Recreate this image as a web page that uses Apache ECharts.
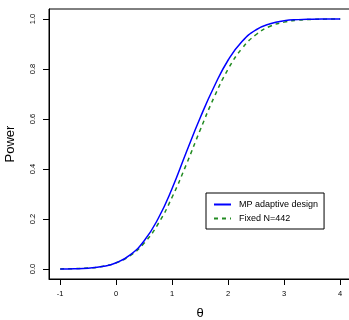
<!DOCTYPE html>
<html>
<head>
<meta charset="utf-8">
<script src="https://cdn.jsdelivr.net/npm/echarts@6/dist/echarts.min.js"></script>
<style>html,body{margin:0;padding:0;background:#fff}#c{width:349px;height:320px}</style>
</head>
<body>
<div id="c"></div>
<script>
var theta = [-1,-0.75,-0.5,-0.25,0,0.25,0.5,0.75,1,1.25,1.5,1.75,2,2.25,2.5,2.75,3,3.25,3.5,3.75,4];
var mpPower = [0.0003,0.001,0.0034,0.0098,0.025,0.0565,0.113,0.202,0.323,0.466,0.605,0.730,0.836,0.911,0.957,0.981,0.993,0.9975,0.9992,0.9998,1.0];
var fixedPower = [0.0004,0.0013,0.0039,0.0104,0.025,0.0537,0.1038,0.181,0.288,0.417,0.556,0.688,0.800,0.883,0.938,0.971,0.9875,0.9952,0.9984,0.9995,0.9999];
var xTicks = [-1,0,1,2,3,4];
var yTicks = [0,0.2,0.4,0.6,0.8,1.0];
var seriesNames = ['MP adaptive design','Fixed N=442'];
var xMin = -1.2, xMax = 4.2, yMin = -0.04, yMax = 1.04;

function pairs(xs, ys){ return xs.map(function(x,i){ return [x, ys[i]]; }); }
var FF = 'Liberation Sans, Arial, sans-serif';
var chart = echarts.init(document.getElementById('c'), null, {renderer:'canvas'});
chart.setOption({
  animation:false,
  backgroundColor:'#fff',
  grid:{left:49, top:9, width:302.4, height:270, show:true, borderColor:'#000', borderWidth:1,
    backgroundColor:'transparent', containLabel:false, outerBoundsMode:'none'},
  xAxis:{type:'value', min:xMin, max:xMax,
    name:'θ', nameLocation:'middle', nameGap:28, nameTextStyle:{fontSize:13, color:'#000', fontFamily:FF},
    axisLine:{show:true, onZero:false, lineStyle:{color:'#000', width:1}}, splitLine:{show:false},
    axisTick:{show:false},
    axisLabel:{customValues:xTicks, margin:11, fontSize:7.5, color:'#000', fontFamily:FF}},
  yAxis:{type:'value', min:yMin, max:yMax,
    name:'Power', nameLocation:'middle', nameRotate:90, nameGap:32, nameTextStyle:{fontSize:13, color:'#000', fontFamily:FF},
    axisLine:{show:true, onZero:false, lineStyle:{color:'#000', width:1}}, splitLine:{show:false},
    axisTick:{show:false},
    axisLabel:{customValues:yTicks, rotate:90, margin:12, fontSize:7.5, color:'#000', fontFamily:FF,
      formatter:function(v){return v.toFixed(1);}}},
  legend:{show:true, left:206, top:193, orient:'vertical', data:seriesNames,
    backgroundColor:'#fff', borderColor:'#000', borderWidth:1, borderRadius:0,
    padding:[7,6,6,7], itemGap:5, itemWidth:17, itemHeight:10,
    itemStyle:{color:'rgba(0,0,0,0)', borderColor:'rgba(0,0,0,0)', borderWidth:0},
    textStyle:{fontSize:9, color:'#000', fontFamily:FF, padding:[0,0,0,3]}},
  series:[
    {name:seriesNames[1], type:'line', data:pairs(theta, fixedPower), showSymbol:false, symbol:'none',
     smooth:true, z:2,
     lineStyle:{color:'#228B22', width:1.5, type:[4,4]}, itemStyle:{color:'#228B22'}},
    {name:seriesNames[0], type:'line', data:pairs(theta, mpPower), showSymbol:false, symbol:'none',
     smooth:true, z:3,
     lineStyle:{color:'#0000FF', width:1.5}, itemStyle:{color:'#0000FF'}}
  ]
});
// tick marks placed through the chart's own scales
var tickEls = [];
xTicks.forEach(function(v){
  var p = chart.convertToPixel({gridIndex:0}, [v, yMin]);
  var x = Math.round(p[0]) + 0.5, y = Math.round(p[1]);
  tickEls.push({type:'line', z:10, silent:true, shape:{x1:x, y1:y, x2:x, y2:y+6}, style:{stroke:'#000', lineWidth:1}});
});
yTicks.forEach(function(v){
  var p = chart.convertToPixel({gridIndex:0}, [xMin, v]);
  var x = Math.round(p[0]), y = Math.round(p[1]) + 0.5;
  tickEls.push({type:'line', z:10, silent:true, shape:{x1:x-6, y1:y, x2:x, y2:y}, style:{stroke:'#000', lineWidth:1}});
});
chart.setOption({graphic:{elements:tickEls}});
</script>
</body>
</html>
